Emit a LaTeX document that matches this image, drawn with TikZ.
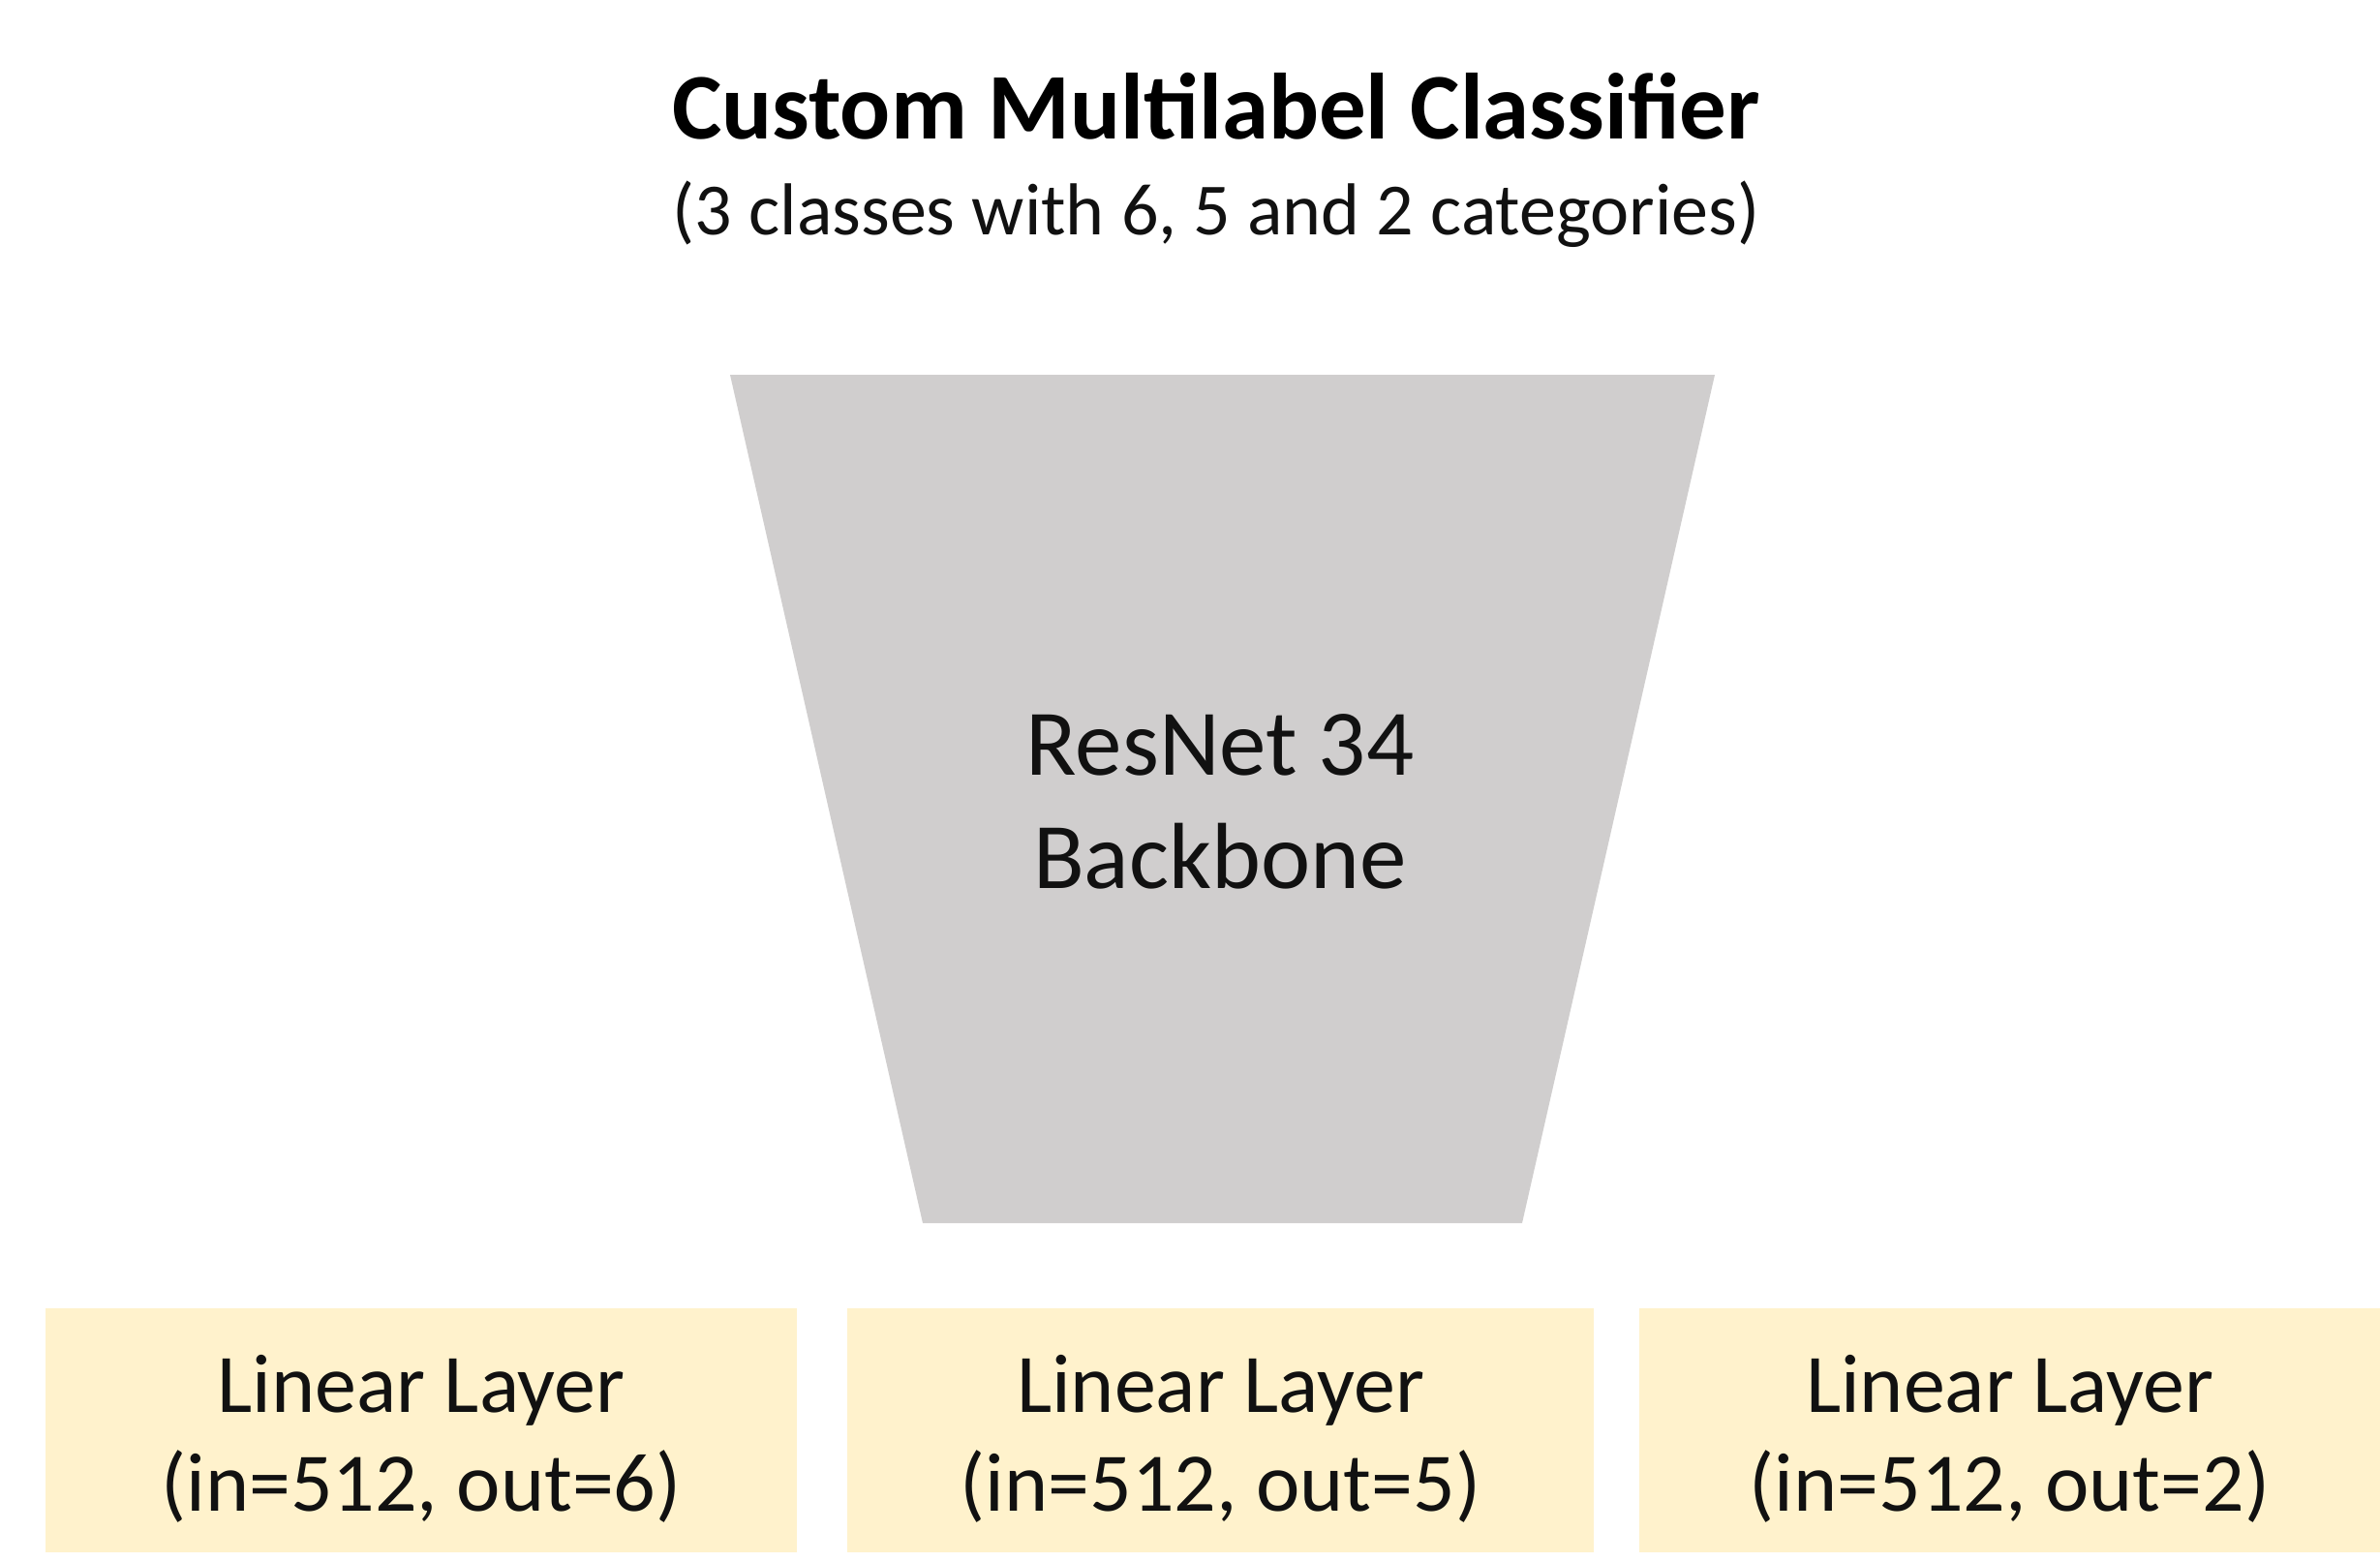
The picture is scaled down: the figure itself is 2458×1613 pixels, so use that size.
\documentclass[tikz,border=0pt]{standalone}
\usepackage{fontspec}
\setmainfont{Carlito}
\definecolor{backbonefill}{HTML}{D0CECE}
\definecolor{layerfill}{HTML}{FFF2CC}
\definecolor{textblack}{HTML}{111111}
\begin{document}
\begin{tikzpicture}[x=1pt,y=-1pt,
  titletext/.style={anchor=base, inner sep=0pt, text=black, font=\fontsize{97}{116}\bfseries\selectfont},
  subtext/.style={anchor=base, inner sep=0pt, text=textblack, font=\fontsize{76}{91}\selectfont},
  bbtext/.style={anchor=base, inner sep=0pt, text=textblack, font=\fontsize{97}{116}\selectfont},
  layertext/.style={anchor=base, inner sep=0pt, text=textblack, font=\fontsize{86}{103}\selectfont},
  layerbox/.style={fill=layerfill, draw=none, inner sep=0pt, minimum height=252pt}
]
\fill[white] (0,0) rectangle (2458,1613);
\useasboundingbox (0,0) rectangle (2458,1613);

% title
\node[titletext] (title) at (1256,144) {Custom Multilabel Classifier};
\node[subtext] (subtitle) at (1256,243) {(3 classes with 6, 5 and 2 categories)};

% backbone trapezoid
\coordinate (bbTL) at (754,387);
\coordinate (bbTR) at (1771,387);
\coordinate (bbBR) at (1572,1263);
\coordinate (bbBL) at (953,1263);
\fill[backbonefill] (bbTL) -- (bbTR) -- (bbBR) -- (bbBL) -- cycle;
\node[bbtext] (bb1) at (1260,800) {ResNet 34};
\node[bbtext] (bb2) at (1260,917) {Backbone};

% linear layers
\node[layerbox, minimum width=776pt] (l1) at (435,1477) {};
\node[layerbox, minimum width=771pt] (l2) at (1260.5,1477) {};
\node[layerbox, minimum width=765pt] (l3) at (2075.5,1477) {};

\node[layertext] (l1a) at (l1.center |- 0,1458) {Linear Layer};
\node[layertext] (l1b) at (l1.center |- 0,1560) {(in=512, out=6)};
\node[layertext] (l2a) at (l2.center |- 0,1458) {Linear Layer};
\node[layertext] (l2b) at (l2.center |- 0,1560) {(in=512, out=5)};
\node[layertext] (l3a) at (l3.center |- 0,1458) {Linear Layer};
\node[layertext] (l3b) at (l3.center |- 0,1560) {(in=512, out=2)};
\end{tikzpicture}
\end{document}
